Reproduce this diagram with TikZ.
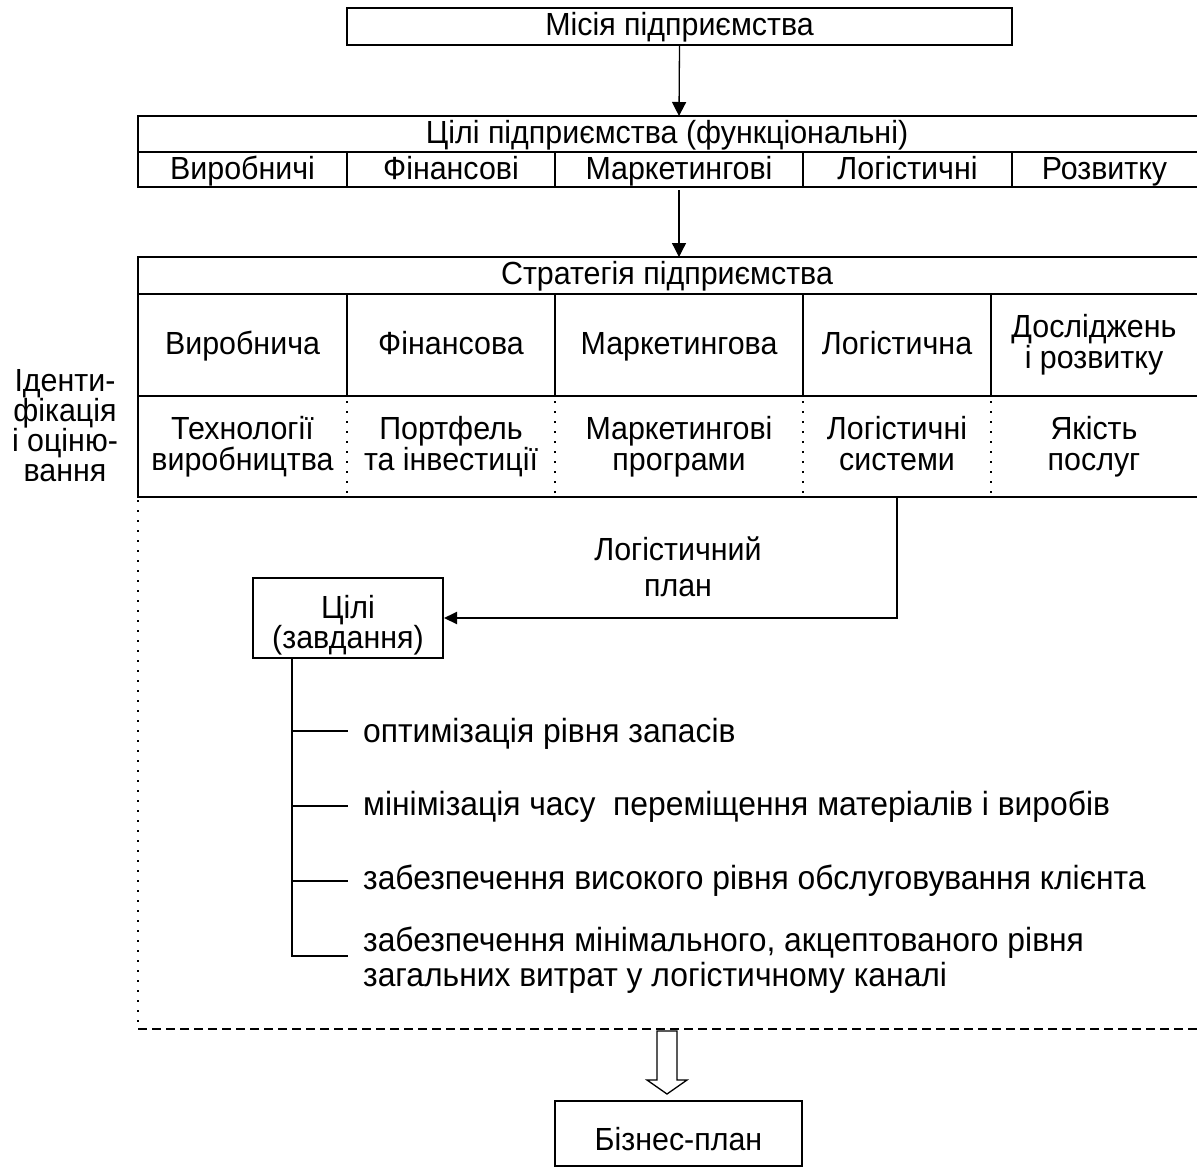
\documentclass[tikz,border=0pt]{standalone}
\usepackage{fontspec}
\setmainfont{Liberation Sans}[FakeStretch=0.95]
\usetikzlibrary{arrows.meta}
% strut from 0.2em below to 0.8em above the baseline, for even vertical centring
\newcommand\mystrut{\rule[-0.2em]{0pt}{1em}}
\begin{document}
\begin{tikzpicture}[x=1pt,y=-1pt,
  txt/.style={font=\fontsize{32}{31}\selectfont, align=center, inner sep=0pt,
    execute at begin node=\mystrut, execute at end node=\mystrut},
  ltxt/.style={txt, font=\fontsize{33.5}{35}\selectfont, anchor=west, align=left},
  frame/.style={line width=2pt},
  boxnode/.style={draw, line width=2pt},
  dots/.style={line width=1.6pt, dash pattern=on 1.6pt off 8.4pt},
  dashln/.style={line width=1.5pt, dash pattern=on 9pt off 5pt},
  arr/.style={line width=1.3pt, -{Triangle[length=14pt,width=14pt]}},
  harr/.style={line width=2pt, -{Triangle[length=13pt,width=12pt]}}]
\useasboundingbox (0,0) rectangle (1197,1168);

% Mission
\node[boxnode, txt, minimum width=665pt, minimum height=37pt] (mission) at (679.5,26.5) {Місія підприємства};
\coordinate (gtop) at (679,116);
\draw[arr] (mission.south) -- (gtop);

% Functional goals table
\draw[frame] (1197,116) -- (138,116) -- (138,187) -- (1197,187);
\draw[frame] (138,152) -- (1197,152);
\foreach \x in {347,555,803,1012} \draw[frame] (\x,152) -- (\x,187);
\node[txt] (gtitle) at (667,134) {Цілі підприємства (функціональні)};
\node[txt] (g1) at (242.5,170) {Виробничі};
\node[txt] (g2) at (451,170) {Фінансові};
\node[txt] (g3) at (679,170) {Маркетингові};
\node[txt] (g4) at (907.5,170) {Логістичні};
\node[txt] (g5) at (1104.5,170) {Розвитку};

\coordinate (gbot) at (679,190);
\coordinate (stop) at (679,257);
\draw[arr] (gbot) -- (stop);

% Strategy table
\draw[frame] (1197,257) -- (138,257) -- (138,497) -- (1197,497);
\draw[frame] (138,294) -- (1197,294);
\draw[frame] (138,396) -- (1197,396);
\foreach \x in {347,555,803,991} {
  \draw[frame] (\x,294) -- (\x,396);
  \draw[dots] (\x,401) -- (\x,494);
}
\node[txt] (stitle) at (667,275.5) {Стратегія підприємства};
\node[txt] (s1) at (242.5,345) {Виробнича};
\node[txt] (s2) at (451,345) {Фінансова};
\node[txt] (s3) at (679,345) {Маркетингова};
\node[txt] (s4) at (897,345) {Логістична};
\node[txt] (s5) at (1094,345) {Досліджень\\і розвитку};
\node[txt] (t1) at (242.5,447) {Технології\\виробництва};
\node[txt] (t2) at (451,447) {Портфель\\та інвестиції};
\node[txt] (t3) at (679,447) {Маркетингові\\програми};
\node[txt] (t4) at (897,447) {Логістичні\\системи};
\node[txt] (t5) at (1094,447) {Якість\\послуг};

% Side label
\node[txt, font=\fontsize{32}{30}\selectfont] (ident) at (65,429) {Іденти-\\фікація\\і оціню-\\вання};

% Scope of identification and evaluation
\draw[dots] (138,500) -- (138,1026);
\draw[dashln] (138,1029) -- (1197,1029);

% Goals (tasks) box and logistics plan connector
\node[boxnode, minimum width=190pt, minimum height=80pt] (tasks) at (348,618) {};
\node[txt, font=\fontsize{32}{30}\selectfont] (taskstxt) at (348,625) {Цілі\\(завдання)};
\coordinate (lstart) at (897,497);
\draw[harr] (lstart) |- (tasks.east);
\node[txt, font=\fontsize{32}{36}\selectfont] (plan) at (678,570) {Логістичний\\план};

% Task list
\coordinate (trunk) at (292,658);
\draw[frame] (trunk) -- (292,956) -- (348,956);
\foreach \y in {731,806,881} \draw[frame] (292,\y) -- (348,\y);
\node[ltxt] (k1) at (363,733) {оптимізація рівня запасів};
\node[ltxt] (k2) at (363,806) {мінімізація часу\ \ переміщення матеріалів і виробів};
\node[ltxt] (k3) at (363,880) {забезпечення високого рівня обслуговування клієнта};
\node[ltxt] (k4) at (363,960) {забезпечення мінімального, акцептованого рівня\\загальних витрат у логістичному каналі};

% Business plan
\node[boxnode, minimum width=247pt, minimum height=65pt] (biz) at (678.5,1133.5) {};
\node[txt] (biztxt) at (678.5,1141) {Бізнес-план};
\coordinate (tip) at (667,1094);
\draw[line width=1.3pt] (657,1031) -- (677,1031) -- (677,1080) -- (687,1080) -- (tip)
  -- (647,1080) -- (657,1080) -- cycle;
\end{tikzpicture}
\end{document}
